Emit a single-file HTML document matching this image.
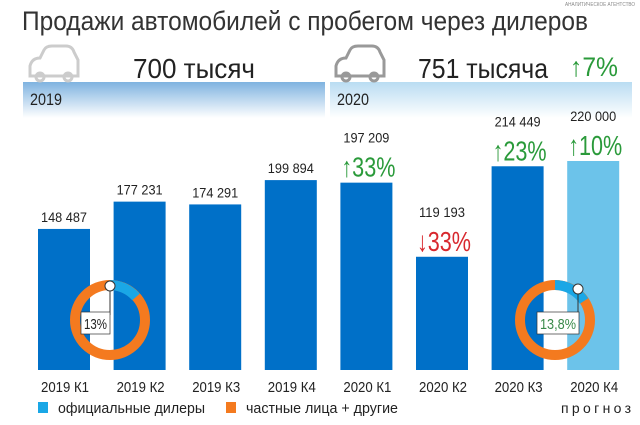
<!DOCTYPE html>
<html><head><meta charset="utf-8"><style>
body{margin:0;background:#fff;}
svg{display:block;font-family:"Liberation Sans","Noto Sans CJK SC",sans-serif;}
</style></head><body>
<svg id="chart" width="640" height="425" viewBox="0 0 640 425" xmlns="http://www.w3.org/2000/svg">
<defs>
<linearGradient id="g1" x1="0" y1="0" x2="0" y2="1"><stop offset="0" stop-color="#7fb3e0"/><stop offset="1" stop-color="#ffffff"/></linearGradient>
<linearGradient id="g2" x1="0" y1="0" x2="0" y2="1"><stop offset="0" stop-color="#b9dcf2"/><stop offset="1" stop-color="#ffffff"/></linearGradient>
</defs>
<text x="22" y="30" font-size="27" fill="#333" textLength="566" lengthAdjust="spacingAndGlyphs">Продажи автомобилей с пробегом через дилеров</text>
<text x="565" y="6" font-size="5" fill="#888" textLength="70" lengthAdjust="spacingAndGlyphs">АНАЛИТИЧЕСКОЕ АГЕНТСТВО</text>
<rect x="23" y="82" width="302" height="36" fill="url(#g1)"/>
<rect x="330" y="82" width="302" height="36" fill="url(#g2)"/>
<text x="30" y="105" font-size="17" fill="#222" textLength="32" lengthAdjust="spacingAndGlyphs">2019</text>
<text x="337" y="105" font-size="17" fill="#222" textLength="32" lengthAdjust="spacingAndGlyphs">2020</text>
<g fill="none" stroke="#ccc" stroke-width="3">
<path d="M30 76 L30 66 Q32 58 40 58 L44 50 Q46 46 52 46 L66 46 Q72 46 74 52 L78 60 L78 76 Z"/>
<circle cx="40" cy="77" r="4"/><circle cx="68" cy="77" r="4"/></g>
<g fill="none" stroke="#999" stroke-width="3">
<path d="M336 76 L336 66 Q338 58 346 58 L350 50 Q352 46 358 46 L372 46 Q378 46 380 52 L384 60 L384 76 Z"/>
<circle cx="346" cy="77" r="4"/><circle cx="374" cy="77" r="4"/></g>
<text x="133" y="78" font-size="28" fill="#222" textLength="122" lengthAdjust="spacingAndGlyphs">700 тысяч</text>
<text x="418" y="78" font-size="28" fill="#222" textLength="130" lengthAdjust="spacingAndGlyphs">751 тысяча</text>
<text x="570" y="76" font-size="27" fill="#2a9a3a" textLength="48" lengthAdjust="spacingAndGlyphs">↑7%</text>
<g id="bars"></g>
<g>
<circle cx="110" cy="320" r="35" fill="none" stroke="#f47a1f" stroke-width="10"/>
<path d="M110 285 A35 35 0 0 1 136 297" fill="none" stroke="#1aa7e6" stroke-width="10"/>
<line x1="110" y1="290" x2="110" y2="315" stroke="#333" stroke-width="1"/>
<circle cx="110" cy="286" r="5" fill="#fff" stroke="#333"/>
<rect x="81" y="312" width="29" height="22" fill="#fff" stroke="#333" stroke-width="0.7"/>
<text x="84" y="329" font-size="15" fill="#222" textLength="23" lengthAdjust="spacingAndGlyphs">13%</text></g>
<g>
<circle cx="555" cy="320" r="35" fill="none" stroke="#f47a1f" stroke-width="10"/>
<path d="M555 285 A35 35 0 0 1 584 301" fill="none" stroke="#1aa7e6" stroke-width="10"/>
<line x1="578" y1="293" x2="578" y2="318" stroke="#333" stroke-width="1"/>
<circle cx="578" cy="289" r="5" fill="#fff" stroke="#333"/>
<rect x="537" y="312" width="42" height="22" fill="#fff" stroke="#333" stroke-width="0.7"/>
<text x="540" y="329" font-size="15" fill="#3a8a4a" textLength="36" lengthAdjust="spacingAndGlyphs">13,8%</text></g>
<rect x="38" y="402" width="10" height="11" fill="#1aa7e6"/>
<text x="58" y="413" font-size="15" fill="#222" textLength="147" lengthAdjust="spacingAndGlyphs">официальные дилеры</text>
<rect x="226" y="402" width="10" height="11" fill="#f47a1f"/>
<text x="246" y="413" font-size="15" fill="#222" textLength="152" lengthAdjust="spacingAndGlyphs">частные лица + другие</text>
<text x="561" y="413" font-size="14" fill="#222" textLength="70" lengthAdjust="spacing">прогноз</text>
</svg>
<script>
const categories=["2019 К1","2019 К2","2019 К3","2019 К4","2020 К1","2020 К2","2020 К3","2020 К4"];
const values=[148487,177231,174291,199894,197209,119193,214449,220000];
const valueLabels=["148 487","177 231","174 291","199 894","197 209","119 193","214 449","220 000"];
const changes=[null,null,null,null,"↑33%","↓33%","↑23%","↑10%"];
const forecast=[false,false,false,false,false,false,false,true];
const base=370,k=209/220000,x0=38,step=75.6,bw=52;
const g=document.getElementById('bars'),NS="http://www.w3.org/2000/svg";
function X(i){return x0+i*step;}
function Y(v){return base-v*k;}
categories.forEach((c,i)=>{
 const r=document.createElementNS(NS,'rect');
 
 
 r.setAttribute('x',X(i));r.setAttribute('y',Y(values[i]));r.setAttribute('width',bw);r.setAttribute('height',base-Y(values[i]));
 r.setAttribute('fill',forecast[i]?'#6cc3ea':'#0070c8');g.appendChild(r);
 const cx=X(i)+bw/2;
 const ch=changes[i];
 const lt=document.createElementNS(NS,'text');
 
 
 lt.setAttribute('x',cx-23);lt.setAttribute('y',Y(values[i])-(ch?40:7));lt.setAttribute('font-size','14');lt.setAttribute('textLength','46');lt.setAttribute('lengthAdjust','spacingAndGlyphs');lt.setAttribute('fill','#222');lt.textContent=valueLabels[i];g.appendChild(lt);
 if(ch){const t=document.createElementNS(NS,'text');
 
 
 t.setAttribute('x',cx-25);t.setAttribute('y',Y(values[i])-6);t.setAttribute('font-size','28');t.setAttribute('textLength','54');t.setAttribute('lengthAdjust','spacingAndGlyphs');t.setAttribute('fill',ch[0]=='↓'?'#d8282e':'#2a9a3a');t.textContent=ch;g.appendChild(t);}
 const ct=document.createElementNS(NS,'text');
 
 
 ct.setAttribute('x',cx-23);ct.setAttribute('y',392);ct.setAttribute('font-size','15');ct.setAttribute('textLength','48');ct.setAttribute('lengthAdjust','spacingAndGlyphs');ct.setAttribute('fill','#222');ct.textContent=c;g.appendChild(ct);
});
</script>
</body></html>
